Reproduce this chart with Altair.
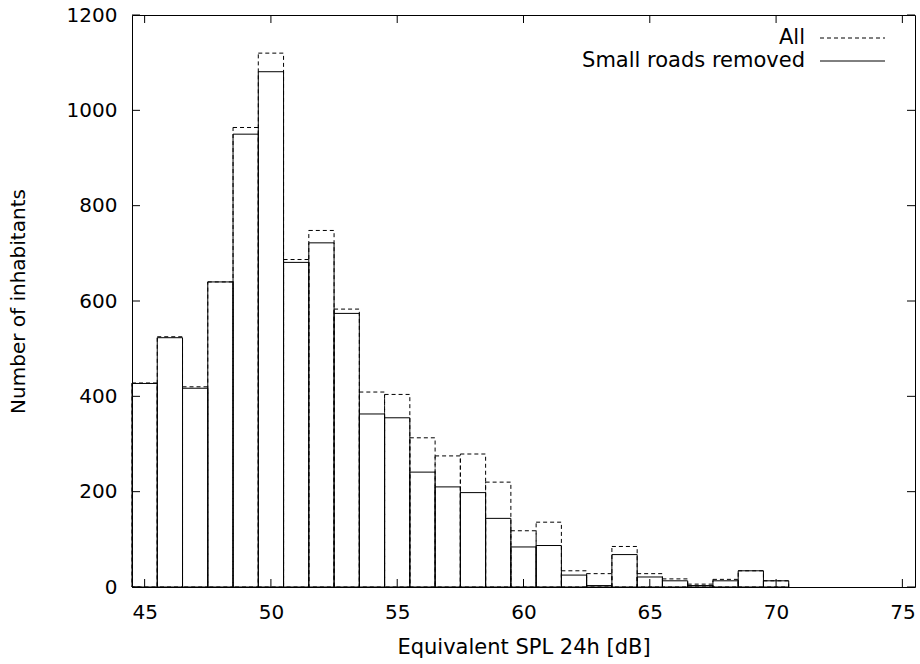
import altair as alt
import pandas as pd

# ---- data ----
levels = list(range(45, 71))
all_counts = [428, 525, 420, 640, 964, 1120, 687, 748, 583, 409, 404, 313, 275,
              279, 220, 118, 136, 34, 28, 85, 28, 17, 6, 16, 34, 13]
small_counts = [427, 523, 417, 640, 950, 1081, 681, 722, 574, 363, 355, 241, 210,
                198, 144, 84, 87, 25, 3, 68, 21, 13, 3, 13, 34, 13]
series_names = ["All", "Small roads removed"]
x_ticks = [45, 50, 55, 60, 65, 70, 75]
y_ticks = [0, 200, 400, 600, 800, 1000, 1200]

W, H = 783, 572
FONT = "DejaVu Sans"
FS_TICK = 20
FS_TITLE = 21

df_all = pd.DataFrame({"level": levels, "count": all_counts})
df_small = pd.DataFrame({"level": levels, "count": small_counts})

xscale = alt.Scale(domain=[44.5, 75.5], nice=False, zero=False)
yscale = alt.Scale(domain=[0, 1200], nice=False)

xaxis = alt.Axis(values=x_ticks, ticks=False, domain=False, grid=False,
                 labelFont=FONT, labelFontSize=FS_TICK, labelColor="black",
                 labelPadding=15, title="Equivalent SPL 24h [dB]",
                 titleFont=FONT, titleFontSize=FS_TITLE, titleFontWeight="normal",
                 titleColor="black", titleY=60, titleBaseline="middle")
yaxis = alt.Axis(values=y_ticks, ticks=False, domain=False, grid=False, format="d",
                 labelFont=FONT, labelFontSize=FS_TICK, labelColor="black",
                 labelPadding=15, title="Number of inhabitants",
                 titleFont=FONT, titleFontSize=20, titleFontWeight="normal",
                 titleColor="black", titleX=-114, titleBaseline="middle")


def bars(df, dash):
    base = alt.Chart(df).transform_calculate(
        x0="datum.level - 0.5", x1="datum.level + 0.5"
    )
    enc = dict(
        x=alt.X("x0:Q", scale=xscale, axis=xaxis),
        x2="x1:Q",
        y=alt.Y("count:Q", scale=yscale, axis=yaxis),
        y2=alt.datum(0),
    )
    kw = dict(fill="white", fillOpacity=0, stroke="black", strokeWidth=1)
    if dash:
        kw["strokeDash"] = [4, 3]
    return base.mark_bar(**kw).encode(**enc)


layer_all = bars(df_all, True)
layer_small = bars(df_small, False)

# inward ticks on all four sides (gnuplot style, mirrored)
TL = 8
df_xt = pd.DataFrame({"v": x_ticks})
df_yt = pd.DataFrame({"v": y_ticks})
tick_x_bottom = alt.Chart(df_xt).mark_rule(color="black", strokeWidth=1).encode(
    x=alt.X("v:Q", scale=xscale, axis=xaxis), y=alt.value(H), y2=alt.value(H - TL))
tick_x_top = alt.Chart(df_xt).mark_rule(color="black", strokeWidth=1).encode(
    x=alt.X("v:Q", scale=xscale, axis=xaxis), y=alt.value(0), y2=alt.value(TL))
tick_y_left = alt.Chart(df_yt).mark_rule(color="black", strokeWidth=1).encode(
    y=alt.Y("v:Q", scale=yscale, axis=yaxis), x=alt.value(0), x2=alt.value(TL))
tick_y_right = alt.Chart(df_yt).mark_rule(color="black", strokeWidth=1).encode(
    y=alt.Y("v:Q", scale=yscale, axis=yaxis), x=alt.value(W), x2=alt.value(W - TL))

# key (top right, gnuplot style: label left of sample)
legend_layers = []
for i, name in enumerate(series_names):
    ypos = 23 + i * 23
    dfl = pd.DataFrame({"t": [name]})
    txt = alt.Chart(dfl).mark_text(
        align="right", baseline="middle", font=FONT, fontSize=FS_TITLE, color="black"
    ).encode(x=alt.value(673), y=alt.value(ypos), text="t:N")
    rule_kw = dict(color="black", strokeWidth=1)
    if i == 0:
        rule_kw["strokeDash"] = [4, 3]
    ln = alt.Chart(dfl).mark_rule(**rule_kw).encode(
        x=alt.value(688), x2=alt.value(753), y=alt.value(ypos))
    legend_layers += [txt, ln]

chart = alt.layer(
    layer_all, layer_small, tick_x_bottom, tick_x_top, tick_y_left, tick_y_right,
    *legend_layers
).properties(
    width=W, height=H,
    autosize=alt.AutoSizeParams(type="none"),
    padding={"left": 132, "top": 15, "right": 5, "bottom": 77},
    background="white",
).configure_view(stroke="black", strokeWidth=1)

chart.save("out.html", embed_options={"renderer": "svg", "actions": False})
